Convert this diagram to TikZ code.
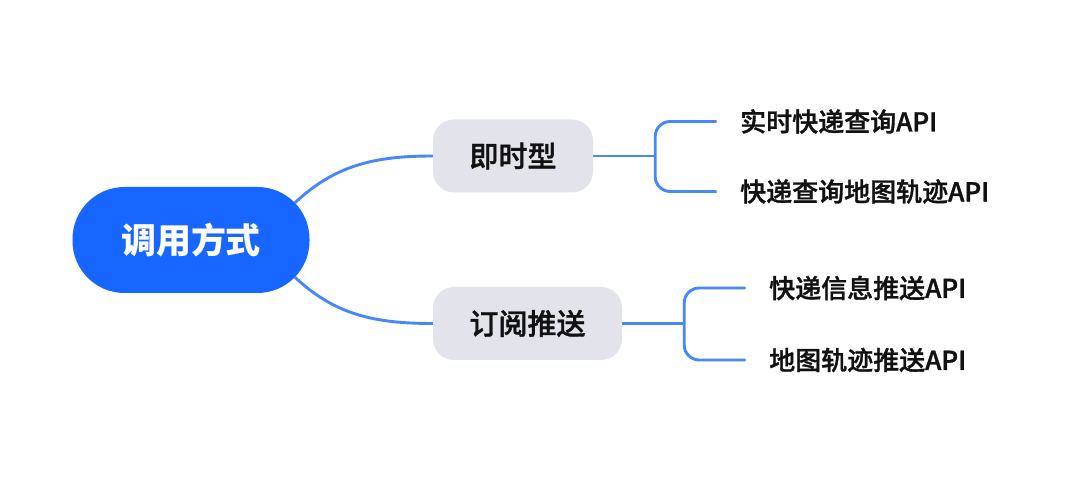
\documentclass[tikz,border=0pt]{standalone}
\usepackage{fontspec}
\setmainfont{Noto Sans CJK SC}
\IfFontExistsTF{Noto Sans CJK SC Medium}
  {\newfontfamily\cjkmed{Noto Sans CJK SC Medium}[FakeBold=1.2]}
  {\newfontfamily\cjkmed{Noto Sans CJK SC}[FakeBold=1.8]}
\usetikzlibrary{calc}
\definecolor{rootblue}{RGB}{22,102,255}
\definecolor{linkblue}{RGB}{70,136,250}
\definecolor{midgray}{RGB}{226,227,235}
\definecolor{txt}{RGB}{17,17,17}
\tikzset{
  rootbox/.style={rectangle, rounded corners=52pt, fill=rootblue, text=white,
    minimum width=237pt, minimum height=106pt, inner sep=0pt,
    font=\fontsize{35}{40}\selectfont\bfseries},
  midbox/.style={rectangle, rounded corners=21pt, fill=midgray, text=txt,
    minimum height=73pt, inner sep=0pt,
    font=\fontsize{29}{34}\selectfont\cjkmed},
  leaf/.style={anchor=west, inner xsep=23.5pt, inner ysep=0pt, text=txt,
    font=\fontsize{26}{30}\selectfont\cjkmed},
  link/.style={draw=linkblue, line width=2.9pt},
}
\begin{document}
\begin{tikzpicture}[x=1pt,y=1pt]
\useasboundingbox[fill=white] (0,0) rectangle (1080,487);
\node[rootbox] (root) at (191,247) {调用方式};
\node[midbox, minimum width=160pt] (n1) at (513,331) {即时型};
\node[midbox, minimum width=189pt] (n2) at (527.5,163.5) {订阅推送};
\node[leaf] (l1) at (716.5,365.5) {实时快递查询API};
\node[leaf] (l2) at (716.5,295.5) {快递查询地图轨迹API};
\node[leaf] (l3) at (745.5,199) {快递信息推送API};
\node[leaf] (l4) at (745.5,127) {地图轨迹推送API};
% root to mid
\draw[link] ($(root.east)+(-15,37)$) .. controls (335,322) and (375,331) .. (n1.west);
\draw[link] ($(root.east)+(-15,-37)$) .. controls (335,172) and (375,163.5) .. (n2.west);
% brackets
\draw[link] (n1.east) -- ++(62,0) coordinate (b1);
\draw[link, rounded corners=15pt] (l1.west) -| (b1) |- (l2.west);
\draw[link] (n2.east) -- ++(62,0) coordinate (b2);
\draw[link, rounded corners=15pt] (l3.west) -| (b2) |- (l4.west);
\end{tikzpicture}
\end{document}
